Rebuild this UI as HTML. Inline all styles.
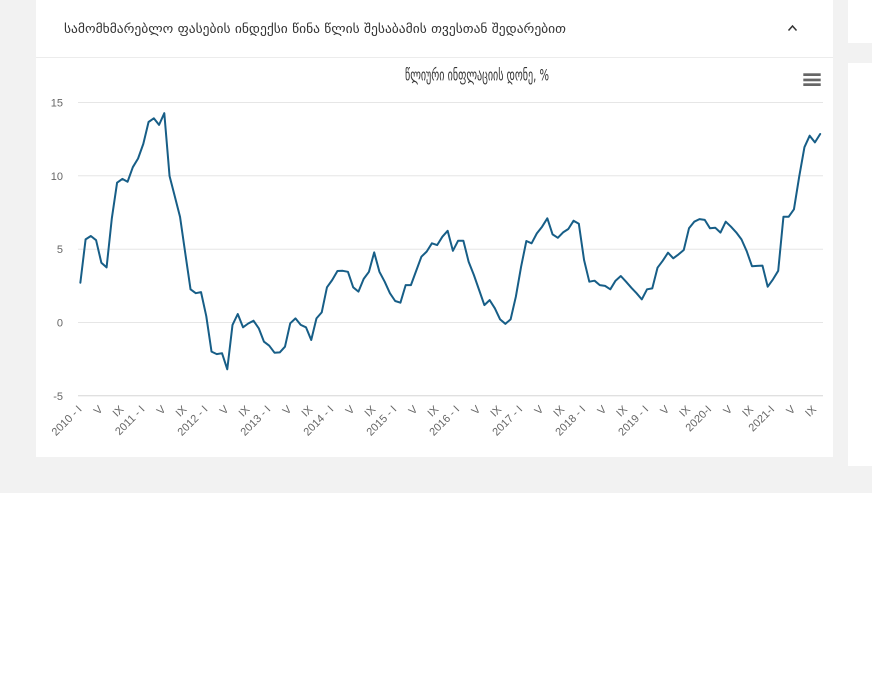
<!DOCTYPE html>
<html><head><meta charset="utf-8"><style>
html,body{margin:0;padding:0;background:#fff;}
svg{display:block;}
</style></head><body>
<svg width="872" height="695" viewBox="0 0 872 695" xmlns="http://www.w3.org/2000/svg">
<rect x="0" y="0" width="872" height="493" fill="#f2f2f2"/>
<rect x="0" y="493" width="872" height="202" fill="#ffffff"/>
<rect x="36" y="0" width="797" height="457" fill="#ffffff"/>
<rect x="848" y="0" width="24" height="43" fill="#ffffff"/>
<rect x="848" y="63" width="24" height="403" fill="#ffffff"/>
<line x1="36" y1="57.5" x2="833" y2="57.5" stroke="#ececec" stroke-width="1"/>
<text x="64" y="33" font-family="DejaVu Sans, 'Liberation Sans', sans-serif" font-size="13" fill="#333" textLength="502" lengthAdjust="spacingAndGlyphs">სამომხმარებლო ფასების ინდექსი წინა წლის შესაბამის თვესთან შედარებით</text>
<polyline points="788.5,30.5 792.5,26 796.5,30.5" fill="none" stroke="#333" stroke-width="1.5"/>
<text x="405" y="80.5" font-family="DejaVu Sans, 'Liberation Sans', sans-serif" font-size="16" fill="#333" textLength="144" lengthAdjust="spacingAndGlyphs">წლიური ინფლაციის დონე, %</text>
<rect x="803.3" y="73.3" width="17.4" height="2.7" fill="#666"/>
<rect x="803.3" y="78.6" width="17.4" height="2.7" fill="#666"/>
<rect x="803.3" y="83.3" width="17.4" height="2.7" fill="#666"/>
<g stroke="#e6e6e6" stroke-width="1">
<line x1="78" y1="102.5" x2="823" y2="102.5"/>
<line x1="78" y1="175.8" x2="823" y2="175.8"/>
<line x1="78" y1="249.2" x2="823" y2="249.2"/>
<line x1="78" y1="322.5" x2="823" y2="322.5"/>
</g>
<line x1="78" y1="395.8" x2="823" y2="395.8" stroke="#d6d6d6" stroke-width="1"/>
<g font-family="'Liberation Sans', sans-serif" font-size="11" fill="#666" text-anchor="end">
<text x="63" y="106.5">15</text>
<text x="63" y="179.8">10</text>
<text x="63" y="253.2">5</text>
<text x="63" y="326.5">0</text>
<text x="63" y="399.8">-5</text>
</g>
<polyline fill="none" stroke="#175e87" stroke-width="2" stroke-linejoin="round" stroke-linecap="round" points="80.35,282.7 85.6,239.4 90.84,236.0 96.09,240.2 101.34,262.7 106.59,267.4 111.83,218.3 117.08,182.7 122.33,178.9 127.57,181.8 132.82,167.2 138.07,158.5 143.31,143.9 148.56,122 153.81,118.3 159.06,124.9 164.3,113.2 169.55,176 174.8,196.4 180.04,216.9 185.29,253.4 190.54,289.3 195.78,293.2 201.03,292.1 206.28,316.2 211.53,351.6 216.77,354.1 222.02,353.2 227.27,369.3 232.51,324.9 237.76,314.0 243.01,327.3 248.25,323.5 253.5,320.7 258.75,328.3 263.99,341.7 269.24,345.7 274.49,352.7 279.74,352.4 284.98,346.7 290.23,323.3 295.48,318.4 300.72,324.9 305.97,327.3 311.22,340.0 316.47,318.4 321.71,312.4 326.96,287.3 332.21,280.0 337.45,271.0 342.7,270.8 347.95,271.8 353.19,287.3 358.44,291.6 363.69,278.9 368.94,271.8 374.18,252.4 379.43,271.8 384.68,281.7 389.92,293.2 395.17,301.0 400.42,302.7 405.66,285.1 410.91,285.1 416.16,270.9 421.41,256.7 426.65,251.6 431.9,243.3 437.15,245.1 442.39,236.7 447.64,230.8 452.89,250.8 458.13,240.7 463.38,240.7 468.63,261.7 473.88,275.0 479.12,290.0 484.37,305.1 489.62,300.1 494.86,308.3 500.11,319.4 505.36,323.8 510.6,319.4 515.85,296.7 521.1,266.7 526.35,241.0 531.59,243.3 536.84,233.4 542.09,226.7 547.33,218.3 552.58,234.4 557.83,237.8 563.07,232.4 568.32,229.0 573.57,220.7 578.82,223.7 584.06,260.0 589.31,281.7 594.56,280.7 599.8,285.1 605.05,285.9 610.3,289.3 615.54,280.7 620.79,276.0 626.04,281.7 631.29,287.7 636.53,293.2 641.78,299.4 647.03,289.3 652.27,288.4 657.52,267.7 662.77,260.7 668.01,252.7 673.26,258.3 678.51,254.4 683.76,250.0 689.0,228.3 694.25,221.7 699.5,219.1 704.74,219.9 709.99,228.3 715.24,227.7 720.48,232.6 725.73,221.7 730.98,226.7 736.23,232.4 741.47,239.4 746.72,251.2 751.97,266.2 757.21,265.9 762.46,265.6 767.71,286.7 772.95,279.4 778.2,270.8 783.45,216.7 788.7,216.7 793.94,209.3 799.19,176.7 804.44,147.2 809.68,135.7 814.93,142.4 820.18,134.0"/>
<g font-family="'Liberation Sans', sans-serif" font-size="11" fill="#666" text-anchor="end">
<text transform="translate(82.4,410) rotate(-45)">2010 - I</text>
<text transform="translate(103.3,410) rotate(-45)">V</text>
<text transform="translate(124.3,410) rotate(-45)">IX</text>
<text transform="translate(145.3,410) rotate(-45)">2011 - I</text>
<text transform="translate(166.3,410) rotate(-45)">V</text>
<text transform="translate(187.3,410) rotate(-45)">IX</text>
<text transform="translate(208.3,410) rotate(-45)">2012 - I</text>
<text transform="translate(229.3,410) rotate(-45)">V</text>
<text transform="translate(250.3,410) rotate(-45)">IX</text>
<text transform="translate(271.2,410) rotate(-45)">2013 - I</text>
<text transform="translate(292.2,410) rotate(-45)">V</text>
<text transform="translate(313.2,410) rotate(-45)">IX</text>
<text transform="translate(334.2,410) rotate(-45)">2014 - I</text>
<text transform="translate(355.2,410) rotate(-45)">V</text>
<text transform="translate(376.2,410) rotate(-45)">IX</text>
<text transform="translate(397.2,410) rotate(-45)">2015 - I</text>
<text transform="translate(418.2,410) rotate(-45)">V</text>
<text transform="translate(439.2,410) rotate(-45)">IX</text>
<text transform="translate(460.1,410) rotate(-45)">2016 - I</text>
<text transform="translate(481.1,410) rotate(-45)">V</text>
<text transform="translate(502.1,410) rotate(-45)">IX</text>
<text transform="translate(523.1,410) rotate(-45)">2017 - I</text>
<text transform="translate(544.1,410) rotate(-45)">V</text>
<text transform="translate(565.1,410) rotate(-45)">IX</text>
<text transform="translate(586.1,410) rotate(-45)">2018 - I</text>
<text transform="translate(607.1,410) rotate(-45)">V</text>
<text transform="translate(628.0,410) rotate(-45)">IX</text>
<text transform="translate(649.0,410) rotate(-45)">2019 - I</text>
<text transform="translate(670.0,410) rotate(-45)">V</text>
<text transform="translate(691.0,410) rotate(-45)">IX</text>
<text transform="translate(712.0,410) rotate(-45)">2020-I</text>
<text transform="translate(733.0,410) rotate(-45)">V</text>
<text transform="translate(754.0,410) rotate(-45)">IX</text>
<text transform="translate(775.0,410) rotate(-45)">2021-I</text>
<text transform="translate(796.0,410) rotate(-45)">V</text>
<text transform="translate(816.9,410) rotate(-45)">IX</text>
</g>
</svg>
</body></html>
